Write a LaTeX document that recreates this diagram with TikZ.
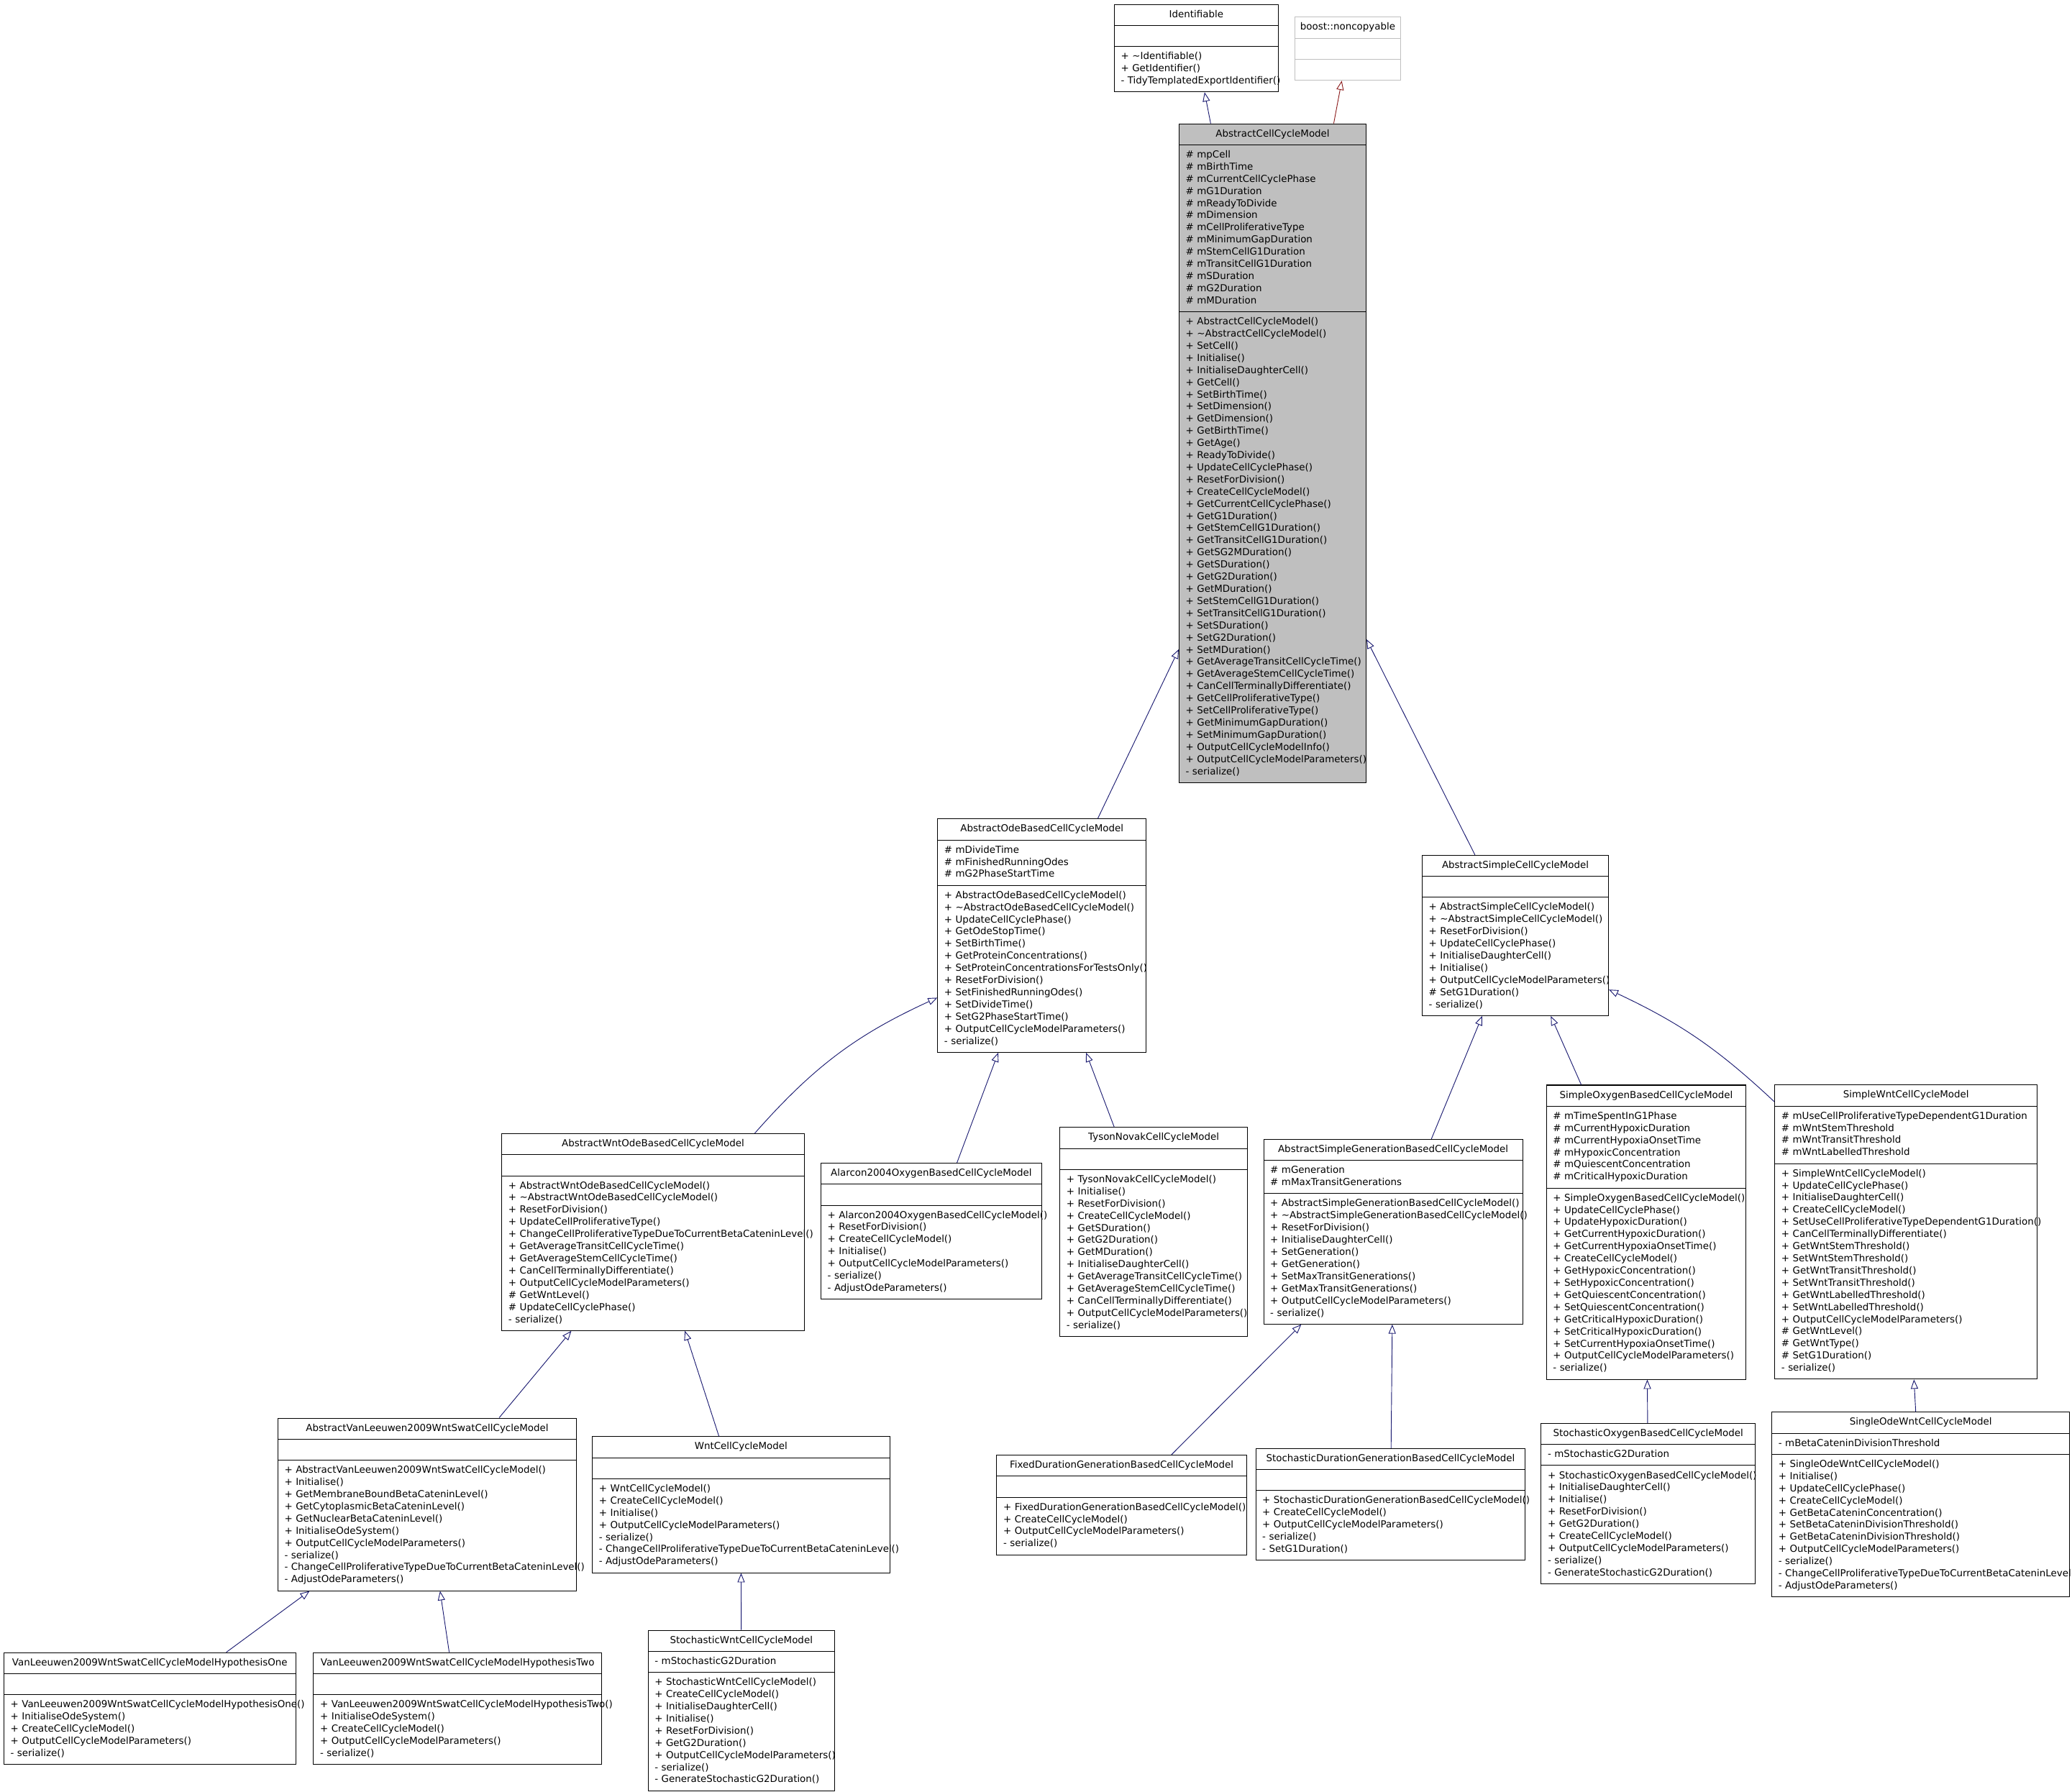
\documentclass[tikz,border=0pt]{standalone}
\usepackage{fontspec}
\newfontfamily\umlfont{DejaVu Sans}
\usetikzlibrary{shapes.multipart,arrows.meta}
\definecolor{edgeblue}{HTML}{191970}
\definecolor{edgered}{HTML}{8B1A1A}
\definecolor{basegray}{HTML}{BFBFBF}
\hyphenpenalty=10000
\exhyphenpenalty=10000
% member markers
\newcommand\mpub{\strut+~}
\newcommand\mprot{\strut\#~}
\newcommand\mpriv{\strut-~}
\newcommand\mnone{\strut}
\newcommand\dtor{\textasciitilde}
\newcommand\clsname[1]{\makebox[\linewidth]{\strut #1}}

\begin{document}
\begin{tikzpicture}[x=1pt, y=-1pt,
  umlclass/.style={rectangle split, rectangle split parts=3, draw, line width=0.55pt,
    anchor=north west, inner xsep=5pt, inner ysep=3.1pt, align=left, fill=white,
    text width=#1, font={\umlfont\fontsize{7.3}{9.2}\selectfont\hyphenpenalty=10000\exhyphenpenalty=10000}},
  derived/.style={-{Triangle[open,length=7pt,width=5.5pt]}, edgeblue, line width=0.5pt}]
  \useasboundingbox (0,0) rectangle (1568,1356);

  % base classes
  \node[umlclass=114] (ident) at (843,3) {\clsname{Identifiable}
    \nodepart{second}\mnone
    \nodepart{third}\mpub\dtor Identifiable()\\ \mpub GetIdentifier()\\ \mpriv TidyTemplatedExportIdentifier()};
  \node[umlclass=70, draw=basegray] (noncop) at (979.6,12.7) {\clsname{boost::noncopyable}
    \nodepart{second}\mnone
    \nodepart{third}\mnone};
  \node[umlclass=131.6, fill=basegray] (acm) at (892,93.4) {\clsname{AbstractCellCycleModel}
    \nodepart{second}\mprot mpCell\\ \mprot mBirthTime\\ \mprot mCurrentCellCyclePhase\\ \mprot mG1Duration\\
      \mprot mReadyToDivide\\ \mprot mDimension\\ \mprot mCellProliferativeType\\ \mprot mMinimumGapDuration\\
      \mprot mStemCellG1Duration\\ \mprot mTransitCellG1Duration\\ \mprot mSDuration\\ \mprot mG2Duration\\
      \mprot mMDuration
    \nodepart{third}\mpub AbstractCellCycleModel()\\ \mpub\dtor AbstractCellCycleModel()\\ \mpub SetCell()\\
      \mpub Initialise()\\ \mpub InitialiseDaughterCell()\\ \mpub GetCell()\\ \mpub SetBirthTime()\\
      \mpub SetDimension()\\ \mpub GetDimension()\\ \mpub GetBirthTime()\\ \mpub GetAge()\\
      \mpub ReadyToDivide()\\ \mpub UpdateCellCyclePhase()\\ \mpub ResetForDivision()\\
      \mpub CreateCellCycleModel()\\ \mpub GetCurrentCellCyclePhase()\\ \mpub GetG1Duration()\\
      \mpub GetStemCellG1Duration()\\ \mpub GetTransitCellG1Duration()\\ \mpub GetSG2MDuration()\\
      \mpub GetSDuration()\\ \mpub GetG2Duration()\\ \mpub GetMDuration()\\ \mpub SetStemCellG1Duration()\\
      \mpub SetTransitCellG1Duration()\\ \mpub SetSDuration()\\ \mpub SetG2Duration()\\ \mpub SetMDuration()\\
      \mpub GetAverageTransitCellCycleTime()\\ \mpub GetAverageStemCellCycleTime()\\
      \mpub CanCellTerminallyDifferentiate()\\ \mpub GetCellProliferativeType()\\
      \mpub SetCellProliferativeType()\\ \mpub GetMinimumGapDuration()\\ \mpub SetMinimumGapDuration()\\
      \mpub OutputCellCycleModelInfo()\\ \mpub OutputCellCycleModelParameters()\\ \mpriv serialize()};

  % second level
  \node[umlclass=147.8] (aode) at (709.3,619.5) {\clsname{AbstractOdeBasedCellCycleModel}
    \nodepart{second}\mprot mDivideTime\\ \mprot mFinishedRunningOdes\\ \mprot mG2PhaseStartTime
    \nodepart{third}\mpub AbstractOdeBasedCellCycleModel()\\ \mpub\dtor AbstractOdeBasedCellCycleModel()\\
      \mpub UpdateCellCyclePhase()\\ \mpub GetOdeStopTime()\\ \mpub SetBirthTime()\\
      \mpub GetProteinConcentrations()\\ \mpub SetProteinConcentrationsForTestsOnly()\\
      \mpub ResetForDivision()\\ \mpub SetFinishedRunningOdes()\\ \mpub SetDivideTime()\\
      \mpub SetG2PhaseStartTime()\\ \mpub OutputCellCycleModelParameters()\\ \mpriv serialize()};
  \node[umlclass=131] (asimple) at (1076,647) {\clsname{AbstractSimpleCellCycleModel}
    \nodepart{second}\mnone
    \nodepart{third}\mpub AbstractSimpleCellCycleModel()\\ \mpub\dtor AbstractSimpleCellCycleModel()\\
      \mpub ResetForDivision()\\ \mpub UpdateCellCyclePhase()\\ \mpub InitialiseDaughterCell()\\
      \mpub Initialise()\\ \mpub OutputCellCycleModelParameters()\\ \mprot SetG1Duration()\\ \mpriv serialize()};

  % third level
  \node[umlclass=218.8] (awo) at (379.5,857.7) {\clsname{AbstractWntOdeBasedCellCycleModel}
    \nodepart{second}\mnone
    \nodepart{third}\mpub AbstractWntOdeBasedCellCycleModel()\\ \mpub\dtor AbstractWntOdeBasedCellCycleModel()\\
      \mpub ResetForDivision()\\ \mpub UpdateCellProliferativeType()\\
      \mpub ChangeCellProliferativeTypeDueToCurrentBetaCateninLevel()\\
      \mpub GetAverageTransitCellCycleTime()\\ \mpub GetAverageStemCellCycleTime()\\
      \mpub CanCellTerminallyDifferentiate()\\ \mpub OutputCellCycleModelParameters()\\
      \mprot GetWntLevel()\\ \mprot UpdateCellCyclePhase()\\ \mpriv serialize()};
  \node[umlclass=157] (alarcon) at (621,880) {\clsname{Alarcon2004OxygenBasedCellCycleModel}
    \nodepart{second}\mnone
    \nodepart{third}\mpub Alarcon2004OxygenBasedCellCycleModel()\\ \mpub ResetForDivision()\\
      \mpub CreateCellCycleModel()\\ \mpub Initialise()\\ \mpub OutputCellCycleModelParameters()\\
      \mpriv serialize()\\ \mpriv AdjustOdeParameters()};
  \node[umlclass=132] (tyson) at (801.8,853) {\clsname{TysonNovakCellCycleModel}
    \nodepart{second}\mnone
    \nodepart{third}\mpub TysonNovakCellCycleModel()\\ \mpub Initialise()\\ \mpub ResetForDivision()\\
      \mpub CreateCellCycleModel()\\ \mpub GetSDuration()\\ \mpub GetG2Duration()\\ \mpub GetMDuration()\\
      \mpub InitialiseDaughterCell()\\ \mpub GetAverageTransitCellCycleTime()\\
      \mpub GetAverageStemCellCycleTime()\\ \mpub CanCellTerminallyDifferentiate()\\
      \mpub OutputCellCycleModelParameters()\\ \mpriv serialize()};
  \node[umlclass=186] (asg) at (956,862) {\clsname{AbstractSimpleGenerationBasedCellCycleModel}
    \nodepart{second}\mprot mGeneration\\ \mprot mMaxTransitGenerations
    \nodepart{third}\mpub AbstractSimpleGenerationBasedCellCycleModel()\\
      \mpub\dtor AbstractSimpleGenerationBasedCellCycleModel()\\ \mpub ResetForDivision()\\
      \mpub InitialiseDaughterCell()\\ \mpub SetGeneration()\\ \mpub GetGeneration()\\
      \mpub SetMaxTransitGenerations()\\ \mpub GetMaxTransitGenerations()\\
      \mpub OutputCellCycleModelParameters()\\ \mpriv serialize()};
  \node[umlclass=141] (sox) at (1170,821) {\clsname{SimpleOxygenBasedCellCycleModel}
    \nodepart{second}\mprot mTimeSpentInG1Phase\\ \mprot mCurrentHypoxicDuration\\
      \mprot mCurrentHypoxiaOnsetTime\\ \mprot mHypoxicConcentration\\ \mprot mQuiescentConcentration\\
      \mprot mCriticalHypoxicDuration
    \nodepart{third}\mpub SimpleOxygenBasedCellCycleModel()\\ \mpub UpdateCellCyclePhase()\\
      \mpub UpdateHypoxicDuration()\\ \mpub GetCurrentHypoxicDuration()\\ \mpub GetCurrentHypoxiaOnsetTime()\\
      \mpub CreateCellCycleModel()\\ \mpub GetHypoxicConcentration()\\ \mpub SetHypoxicConcentration()\\
      \mpub GetQuiescentConcentration()\\ \mpub SetQuiescentConcentration()\\
      \mpub GetCriticalHypoxicDuration()\\ \mpub SetCriticalHypoxicDuration()\\
      \mpub SetCurrentHypoxiaOnsetTime()\\ \mpub OutputCellCycleModelParameters()\\ \mpriv serialize()};
  \node[umlclass=188.6] (swnt) at (1342.8,820.9) {\clsname{SimpleWntCellCycleModel}
    \nodepart{second}\mprot mUseCellProliferativeTypeDependentG1Duration\\ \mprot mWntStemThreshold\\
      \mprot mWntTransitThreshold\\ \mprot mWntLabelledThreshold
    \nodepart{third}\mpub SimpleWntCellCycleModel()\\ \mpub UpdateCellCyclePhase()\\
      \mpub InitialiseDaughterCell()\\ \mpub CreateCellCycleModel()\\
      \mpub SetUseCellProliferativeTypeDependentG1Duration()\\ \mpub CanCellTerminallyDifferentiate()\\
      \mpub GetWntStemThreshold()\\ \mpub SetWntStemThreshold()\\ \mpub GetWntTransitThreshold()\\
      \mpub SetWntTransitThreshold()\\ \mpub GetWntLabelledThreshold()\\ \mpub SetWntLabelledThreshold()\\
      \mpub OutputCellCycleModelParameters()\\ \mprot GetWntLevel()\\ \mprot GetWntType()\\
      \mprot SetG1Duration()\\ \mpriv serialize()};

  % fourth level
  \node[umlclass=216] (avl) at (210,1073) {\clsname{AbstractVanLeeuwen2009WntSwatCellCycleModel}
    \nodepart{second}\mnone
    \nodepart{third}\mpub AbstractVanLeeuwen2009WntSwatCellCycleModel()\\ \mpub Initialise()\\
      \mpub GetMembraneBoundBetaCateninLevel()\\ \mpub GetCytoplasmicBetaCateninLevel()\\
      \mpub GetNuclearBetaCateninLevel()\\ \mpub InitialiseOdeSystem()\\
      \mpub OutputCellCycleModelParameters()\\ \mpriv serialize()\\
      \mpriv ChangeCellProliferativeTypeDueToCurrentBetaCateninLevel()\\ \mpriv AdjustOdeParameters()};
  \node[umlclass=215] (wnt) at (448,1087) {\clsname{WntCellCycleModel}
    \nodepart{second}\mnone
    \nodepart{third}\mpub WntCellCycleModel()\\ \mpub CreateCellCycleModel()\\ \mpub Initialise()\\
      \mpub OutputCellCycleModelParameters()\\ \mpriv serialize()\\
      \mpriv ChangeCellProliferativeTypeDueToCurrentBetaCateninLevel()\\ \mpriv AdjustOdeParameters()};
  \node[umlclass=179] (fixed) at (754,1101) {\clsname{FixedDurationGenerationBasedCellCycleModel}
    \nodepart{second}\mnone
    \nodepart{third}\mpub FixedDurationGenerationBasedCellCycleModel()\\ \mpub CreateCellCycleModel()\\
      \mpub OutputCellCycleModelParameters()\\ \mpriv serialize()};
  \node[umlclass=194] (sdg) at (950,1096) {\clsname{StochasticDurationGenerationBasedCellCycleModel}
    \nodepart{second}\mnone
    \nodepart{third}\mpub StochasticDurationGenerationBasedCellCycleModel()\\ \mpub CreateCellCycleModel()\\
      \mpub OutputCellCycleModelParameters()\\ \mpriv serialize()\\ \mpriv SetG1Duration()};
  \node[umlclass=152] (stox) at (1166,1077) {\clsname{StochasticOxygenBasedCellCycleModel}
    \nodepart{second}\mpriv mStochasticG2Duration
    \nodepart{third}\mpub StochasticOxygenBasedCellCycleModel()\\ \mpub InitialiseDaughterCell()\\
      \mpub Initialise()\\ \mpub ResetForDivision()\\ \mpub GetG2Duration()\\ \mpub CreateCellCycleModel()\\
      \mpub OutputCellCycleModelParameters()\\ \mpriv serialize()\\ \mpriv GenerateStochasticG2Duration()};
  \node[umlclass=215.3] (sodw) at (1340.6,1068.5) {\clsname{SingleOdeWntCellCycleModel}
    \nodepart{second}\mpriv mBetaCateninDivisionThreshold
    \nodepart{third}\mpub SingleOdeWntCellCycleModel()\\ \mpub Initialise()\\ \mpub UpdateCellCyclePhase()\\
      \mpub CreateCellCycleModel()\\ \mpub GetBetaCateninConcentration()\\
      \mpub SetBetaCateninDivisionThreshold()\\ \mpub GetBetaCateninDivisionThreshold()\\
      \mpub OutputCellCycleModelParameters()\\ \mpriv serialize()\\
      \mpriv ChangeCellProliferativeTypeDueToCurrentBetaCateninLevel()\\ \mpriv AdjustOdeParameters()};

  % fifth level
  \node[umlclass=210.8] (vlh1) at (2.7,1250.5) {\clsname{VanLeeuwen2009WntSwatCellCycleModelHypothesisOne}
    \nodepart{second}\mnone
    \nodepart{third}\mpub VanLeeuwen2009WntSwatCellCycleModelHypothesisOne()\\ \mpub InitialiseOdeSystem()\\
      \mpub CreateCellCycleModel()\\ \mpub OutputCellCycleModelParameters()\\ \mpriv serialize()};
  \node[umlclass=208] (vlh2) at (237,1250.5) {\clsname{VanLeeuwen2009WntSwatCellCycleModelHypothesisTwo}
    \nodepart{second}\mnone
    \nodepart{third}\mpub VanLeeuwen2009WntSwatCellCycleModelHypothesisTwo()\\ \mpub InitialiseOdeSystem()\\
      \mpub CreateCellCycleModel()\\ \mpub OutputCellCycleModelParameters()\\ \mpriv serialize()};
  \node[umlclass=131] (swcm) at (490.2,1233.6) {\clsname{StochasticWntCellCycleModel}
    \nodepart{second}\mpriv mStochasticG2Duration
    \nodepart{third}\mpub StochasticWntCellCycleModel()\\ \mpub CreateCellCycleModel()\\
      \mpub InitialiseDaughterCell()\\ \mpub Initialise()\\ \mpub ResetForDivision()\\ \mpub GetG2Duration()\\
      \mpub OutputCellCycleModelParameters()\\ \mpriv serialize()\\ \mpriv GenerateStochasticG2Duration()};

  % inheritance
  \draw[derived] (acm) -- (ident);
  \draw[derived, edgered] (acm) -- (noncop);
  \draw[derived] (aode) -- (acm);
  \draw[derived] (asimple) -- (acm);
  \draw[derived] ([xshift=77pt]awo.north) to[bend left=12] ([yshift=-47pt]aode.west);
  \draw[derived] (alarcon) -- (aode);
  \draw[derived] (tyson) -- (aode);
  \draw[derived] (asg) -- (asimple);
  \draw[derived] (sox) -- (asimple);
  \draw[derived] ([yshift=-13pt]swnt.north west) to[bend right=9] ([yshift=-41pt]asimple.east);
  \draw[derived] (avl) -- (awo);
  \draw[derived] (wnt) -- (awo);
  \draw[derived] (fixed) -- (asg);
  \draw[derived] (sdg) -- (asg);
  \draw[derived] (stox) -- (sox);
  \draw[derived] (sodw) -- (swnt);
  \draw[derived] (vlh1) -- (avl);
  \draw[derived] (vlh2) -- (avl);
  \draw[derived] (swcm) -- (wnt);
\end{tikzpicture}
\end{document}
